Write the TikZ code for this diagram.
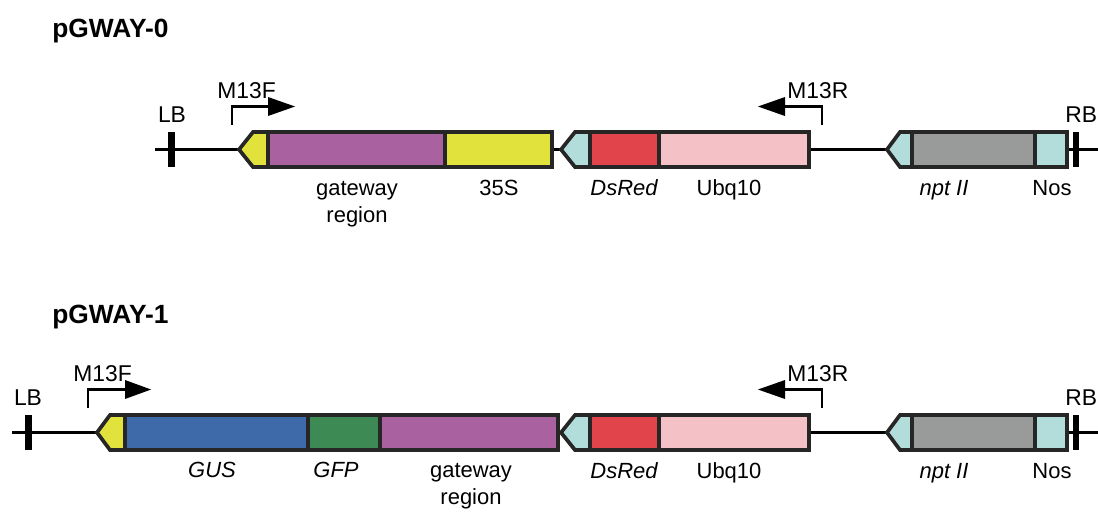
\documentclass[tikz,border=0pt]{standalone}
\usepackage{fontspec}
\setmainfont{Liberation Sans}
\definecolor{cYellow}{HTML}{E2E23C}
\definecolor{cPurple}{HTML}{A9629F}
\definecolor{cCyan}{HTML}{B3DDDB}
\definecolor{cRed}{HTML}{E1444A}
\definecolor{cPink}{HTML}{F3C1C6}
\definecolor{cGrey}{HTML}{999B9B}
\definecolor{cBlue}{HTML}{3F6AAA}
\definecolor{cGreen}{HTML}{3D8A55}

\begin{document}
\begin{tikzpicture}[x=0.02cm,y=-0.02cm,line join=miter,
  part/.style={draw=black!85,line width=2.1pt},
  backbone/.style={line width=1.5pt},
  primer/.style={line width=1.4pt},
  lbl/.style={anchor=base,inner sep=0pt,font=\fontsize{12.5}{14}\selectfont},
  tag/.style={anchor=base,inner sep=0pt,font=\fontsize{13}{15}\selectfont},
  title/.style={anchor=base west,inner sep=0pt,font=\fontsize{15}{17}\selectfont\bfseries}]
  \useasboundingbox (0,0) rectangle (1098,512);

  % pGWAY-0
  \node[title] (t0) at (52,37.5) {pGWAY-0};
  \draw[backbone] (155,149.5) -- (1098,149.5);
  \fill (168,132) rectangle (175,167);
  \fill (1073,132) rectangle (1079,167);
  \node[tag] (lb0) at (172,122) {LB};
  \node[tag,anchor=base west] (rb0) at (1065,122) {RB};
  \filldraw[part,fill=cYellow] (239,149.5) -- (253,132) -- (268,132) -- (268,167) -- (253,167) -- cycle;
  \filldraw[part,fill=cPurple] (268,132) rectangle (445,167);
  \filldraw[part,fill=cYellow] (445,132) rectangle (552,167);
  \node[lbl] (gw0) at (357,195) {gateway};
  \node[lbl] (rg0) at (357,222) {region};
  \node[lbl] (ps0) at (499,195) {35S};
  \draw[primer] (232,125) -- (232,106.5) -- (268,106.5);
  \fill (268,97) -- (295,106.5) -- (268,116) -- cycle;
  \node[tag,anchor=base west] (mf0) at (217,98) {M13F};

  % pGWAY-1
  \node[title] (t1) at (52,323) {pGWAY-1};
  \draw[backbone] (12,432.5) -- (1098,432.5);
  \fill (25,415) rectangle (32,450);
  \fill (1073,415) rectangle (1079,450);
  \node[tag] (lb1) at (28,405) {LB};
  \node[tag,anchor=base west] (rb1) at (1065,405) {RB};
  \filldraw[part,fill=cYellow] (97,432.5) -- (110,415) -- (125,415) -- (125,450) -- (110,450) -- cycle;
  \filldraw[part,fill=cBlue] (125,415) rectangle (308,450);
  \filldraw[part,fill=cGreen] (308,415) rectangle (380,450);
  \filldraw[part,fill=cPurple] (380,415) rectangle (558,450);
  \node[lbl] (gus1) at (212,477) {\itshape GUS};
  \node[lbl] (gfp1) at (336,477) {\itshape GFP};
  \node[lbl] (gw1) at (471,477) {gateway};
  \node[lbl] (rg1) at (471,504) {region};
  \draw[primer] (88,408) -- (88,389.5) -- (125,389.5);
  \fill (125,380) -- (151,389.5) -- (125,399) -- cycle;
  \node[tag,anchor=base west] (mf1) at (73,381) {M13F};

  % common right half
  \foreach \r [count=\i] in {0,283} {
    \filldraw[part,fill=cCyan] (561,149.5+\r) -- (575,132+\r) -- (590,132+\r) -- (590,167+\r) -- (575,167+\r) -- cycle;
    \filldraw[part,fill=cRed] (590,132+\r) rectangle (659,167+\r);
    \filldraw[part,fill=cPink] (659,132+\r) rectangle (809,167+\r);
    \filldraw[part,fill=cCyan] (887,149.5+\r) -- (900,132+\r) -- (912,132+\r) -- (912,167+\r) -- (900,167+\r) -- cycle;
    \filldraw[part,fill=cGrey] (912,132+\r) rectangle (1035,167+\r);
    \filldraw[part,fill=cCyan] (1035,132+\r) rectangle (1067,167+\r);
    \node[lbl] (ds\i) at (624,195+\r) {\itshape DsRed};
    \node[lbl] (ubq\i) at (729,195+\r) {Ubq10};
    \node[lbl] (npt\i) at (944,195+\r) {\itshape npt II};
    \node[lbl] (nos\i) at (1052,195+\r) {Nos};
    \draw[primer] (822,125+\r) -- (822,106.5+\r) -- (785,106.5+\r);
    \fill (785,97+\r) -- (758,106.5+\r) -- (785,116+\r) -- cycle;
    \node[tag,anchor=base west] (mr\i) at (787,98+\r) {M13R};
  }
\end{tikzpicture}
\end{document}
